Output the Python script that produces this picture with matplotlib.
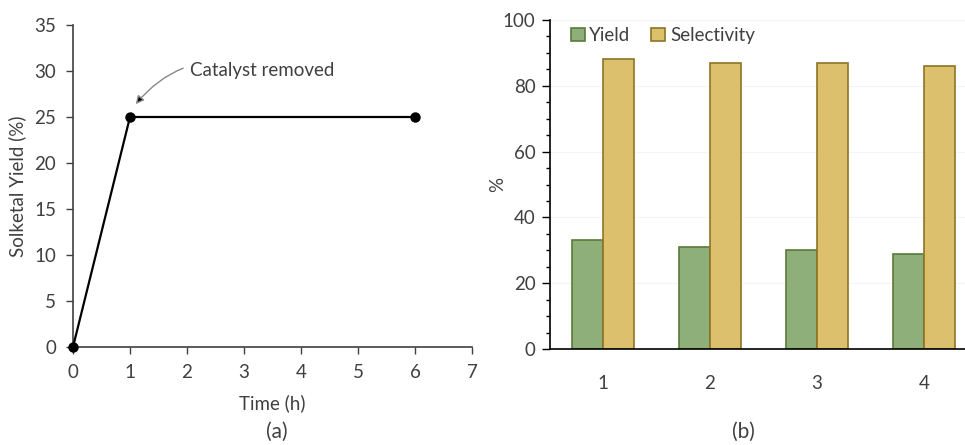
import matplotlib
matplotlib.use("Agg")
import matplotlib.pyplot as plt
import numpy as np
from matplotlib.ticker import MultipleLocator

plt.rcParams['font.family'] = ['Lato', 'DejaVu Sans']

# Panel (a) data
time_h = [0, 1, 6]
solketal_yield = [0, 25, 25]

# Panel (b) data
cycles = ['1', '2', '3', '4']
yield_pct = [33, 31, 30, 29]
selectivity_pct = [88, 87, 87, 86]

txt = '#404040'
fs = 13.5

fig = plt.figure(figsize=(9.65, 4.45), dpi=100)

# ---- Panel (a)
ax1 = fig.add_axes([73/965, 1-347/445, (472-73)/965, (347-25)/445])
ax1.plot(time_h, solketal_yield, color='black', lw=1.6, marker='o', ms=6.5, clip_on=False, zorder=3)
ax1.set_xlim(0, 7)
ax1.set_ylim(0, 35)
ax1.xaxis.set_major_locator(MultipleLocator(1))
ax1.yaxis.set_major_locator(MultipleLocator(5))
for s in ['top', 'right']:
    ax1.spines[s].set_visible(False)
for s in ['left', 'bottom']:
    ax1.spines[s].set_color('#404040')
    ax1.spines[s].set_linewidth(1.2)
ax1.tick_params(direction='out', length=5, width=1, color='#404040', labelcolor=txt, labelsize=fs, pad=7)
ax1.set_xlabel('Time (h)', color=txt, fontsize=fs, labelpad=10)
ax1.set_ylabel('Solketal Yield (%)', color=txt, fontsize=fs, labelpad=6)
ax1.annotate('Catalyst removed', xy=(1.1, 26.4), xytext=(2.05, 30.1),
             fontsize=fs, color=txt, va='center', ha='left',
             arrowprops=dict(arrowstyle='-|>', ec='#888888', fc='black', lw=1.0,
                             connectionstyle='arc3,rad=0.35', shrinkA=3, shrinkB=0,
                             mutation_scale=12))

# ---- Panel (b)
ax2 = fig.add_axes([549.5/965, 1-349/445, (965-549.5)/965, (349-20)/445])
x = np.arange(1, len(cycles)+1)
w = 0.29
ax2.bar(x - w/2, yield_pct, w, color='#8FAF7A', edgecolor='#5A7A3A', lw=1.2, label='Yield', zorder=2)
ax2.bar(x + w/2, selectivity_pct, w, color='#DCC06E', edgecolor='#8F7424', lw=1.2, label='Selectivity', zorder=2)
ax2.set_xlim(0.5, len(cycles) + 0.5 - (977.5-965)/107)
ax2.set_ylim(0, 100)
ax2.set_xticks(x)
ax2.set_xticklabels(cycles)
ax2.yaxis.set_major_locator(MultipleLocator(20))
ax2.yaxis.set_minor_locator(MultipleLocator(5))
ax2.grid(axis='y', color='#f4f4f4', lw=0.8, zorder=0)
for s in ['top', 'right']:
    ax2.spines[s].set_visible(False)
ax2.spines['left'].set_color('black')
ax2.spines['left'].set_linewidth(1.2)
ax2.spines['bottom'].set_color('black')
ax2.spines['bottom'].set_linewidth(1.2)
ax2.tick_params(axis='y', which='major', direction='out', length=6, width=1, color='black', labelcolor=txt, labelsize=fs, pad=4)
ax2.tick_params(axis='y', which='minor', direction='out', length=3, width=1, color='black')
ax2.tick_params(axis='x', length=0, labelcolor=txt, labelsize=fs, pad=19)
ax2.set_ylabel('%', color=txt, fontsize=fs, labelpad=-2)
ax2.legend(loc='upper left', bbox_to_anchor=(0.01, 1.03), ncol=2, frameon=False, fontsize=fs,
           handlelength=0.75, handleheight=0.75, handletextpad=0.25, columnspacing=1.1,
           labelcolor=txt)

fig.text(277/965, 1-432/445, '(a)', ha='center', va='center', fontsize=15, color=txt)
fig.text(743/965, 1-432/445, '(b)', ha='center', va='center', fontsize=15, color=txt)

fig.savefig('out.png', dpi=100)
